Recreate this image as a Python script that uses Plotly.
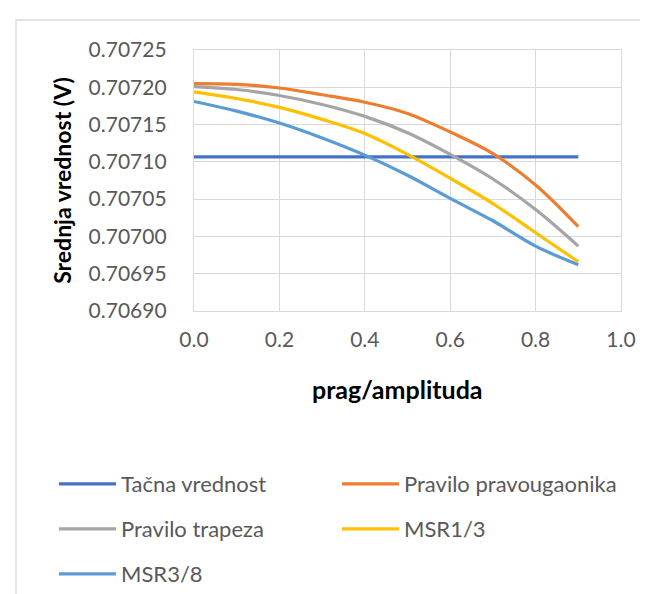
import plotly.graph_objects as go

x_vals = [0.0, 0.1, 0.2, 0.3, 0.4, 0.5, 0.6, 0.7, 0.8, 0.9]
tacna = [0.70710678] * 10
pravougaonik = [0.707205, 0.707204, 0.707199, 0.707190, 0.707180, 0.707165, 0.707140, 0.707111, 0.707069, 0.707013]
trapez = [0.707201, 0.707197, 0.707189, 0.707177, 0.707161, 0.707139, 0.707110, 0.707077, 0.707036, 0.706987]
msr13 = [0.707194, 0.707185, 0.707173, 0.707157, 0.707138, 0.707110, 0.707078, 0.707044, 0.707005, 0.706966]
msr38 = [0.707181, 0.707168, 0.707152, 0.707132, 0.707109, 0.707082, 0.707051, 0.707021, 0.706987, 0.706962]

names = ["Tačna vrednost", "Pravilo pravougaonika", "Pravilo trapeza", "MSR1/3", "MSR3/8"]
series = [tacna, pravougaonik, trapez, msr13, msr38]
colors = ["#4472C4", "#ED7D31", "#A5A5A5", "#FFC000", "#5B9BD5"]
legend_ids = ["legend", "legend2", "legend3", "legend4", "legend5"]
# legend entry anchor points (px): line start x, row centre y
legend_pos = [(46, 476), (329, 476), (46, 521), (329, 521), (46, 566)]

FONT = "Lato"
fig = go.Figure()
for name, ys, c, lg in zip(names, series, colors, legend_ids):
    fig.add_trace(go.Scatter(x=x_vals, y=ys, mode="lines", name=name,
                             line=dict(color=c, width=3.2, shape="spline", smoothing=1.0),
                             legend=lg))

L, R, T, B = 186, 35, 42, 291
W, H = 648, 594
PW, PH = W - L - R, H - T - B

def cx(px):
    return px / W

def cy(py):
    return 1 - py / H

legend_common = dict(orientation="h", xanchor="left", yanchor="middle",
                     xref="container", yref="container",
                     font=dict(family=FONT, size=22, color="#595959"),
                     bgcolor="rgba(0,0,0,0)", itemwidth=57)

legends = {}
for lg, (lx, ly) in zip(legend_ids, legend_pos):
    legends[lg] = dict(x=cx(lx), y=cy(ly), **legend_common)

fig.update_layout(
    width=W, height=H,
    margin=dict(l=L, r=R, t=T, b=B, autoexpand=False),
    plot_bgcolor="white", paper_bgcolor="white",
    font=dict(family=FONT, color="#595959"),
    showlegend=True,
    xaxis=dict(range=[0, 1], dtick=0.2, tick0=0, tickformat=".1f",
               showgrid=True, gridcolor="#D9D9D9", gridwidth=1.3,
               showline=True, linecolor="#D9D9D9", linewidth=1.3, mirror=True,
               zeroline=False, ticks="", ticklabelstandoff=10,
               tickfont=dict(family=FONT, size=21, color="#595959")),
    yaxis=dict(range=[0.70690, 0.70725], dtick=0.00005, tick0=0.70690, tickformat=".5f",
               showgrid=True, gridcolor="#D9D9D9", gridwidth=1.3,
               showline=True, linecolor="#D9D9D9", linewidth=1.3, mirror=True,
               zeroline=False, ticks="", ticklabelstandoff=22,
               tickfont=dict(family=FONT, size=21, color="#595959"),
               title=dict(text="<b>Srednja vrednost (V)</b>", standoff=10,
                          font=dict(family=FONT, size=23, color="black"))),
    annotations=[dict(text="<b>prag/amplituda</b>", xref="paper", yref="paper",
                      x=(389 - L) / PW, y=(H - B - 381) / PH, xanchor="center", yanchor="middle",
                      showarrow=False, font=dict(family=FONT, size=25, color="black"))],
    shapes=[dict(type="rect", xref="paper", yref="paper",
                 x0=(8 - L) / PW, y0=-2.0, x1=2.0, y1=(H - B - 12) / PH,
                 line=dict(color="#D9D9D9", width=1.3), fillcolor="rgba(0,0,0,0)",
                 layer="below")],
    **legends,
)

fig.write_html("out.html")
